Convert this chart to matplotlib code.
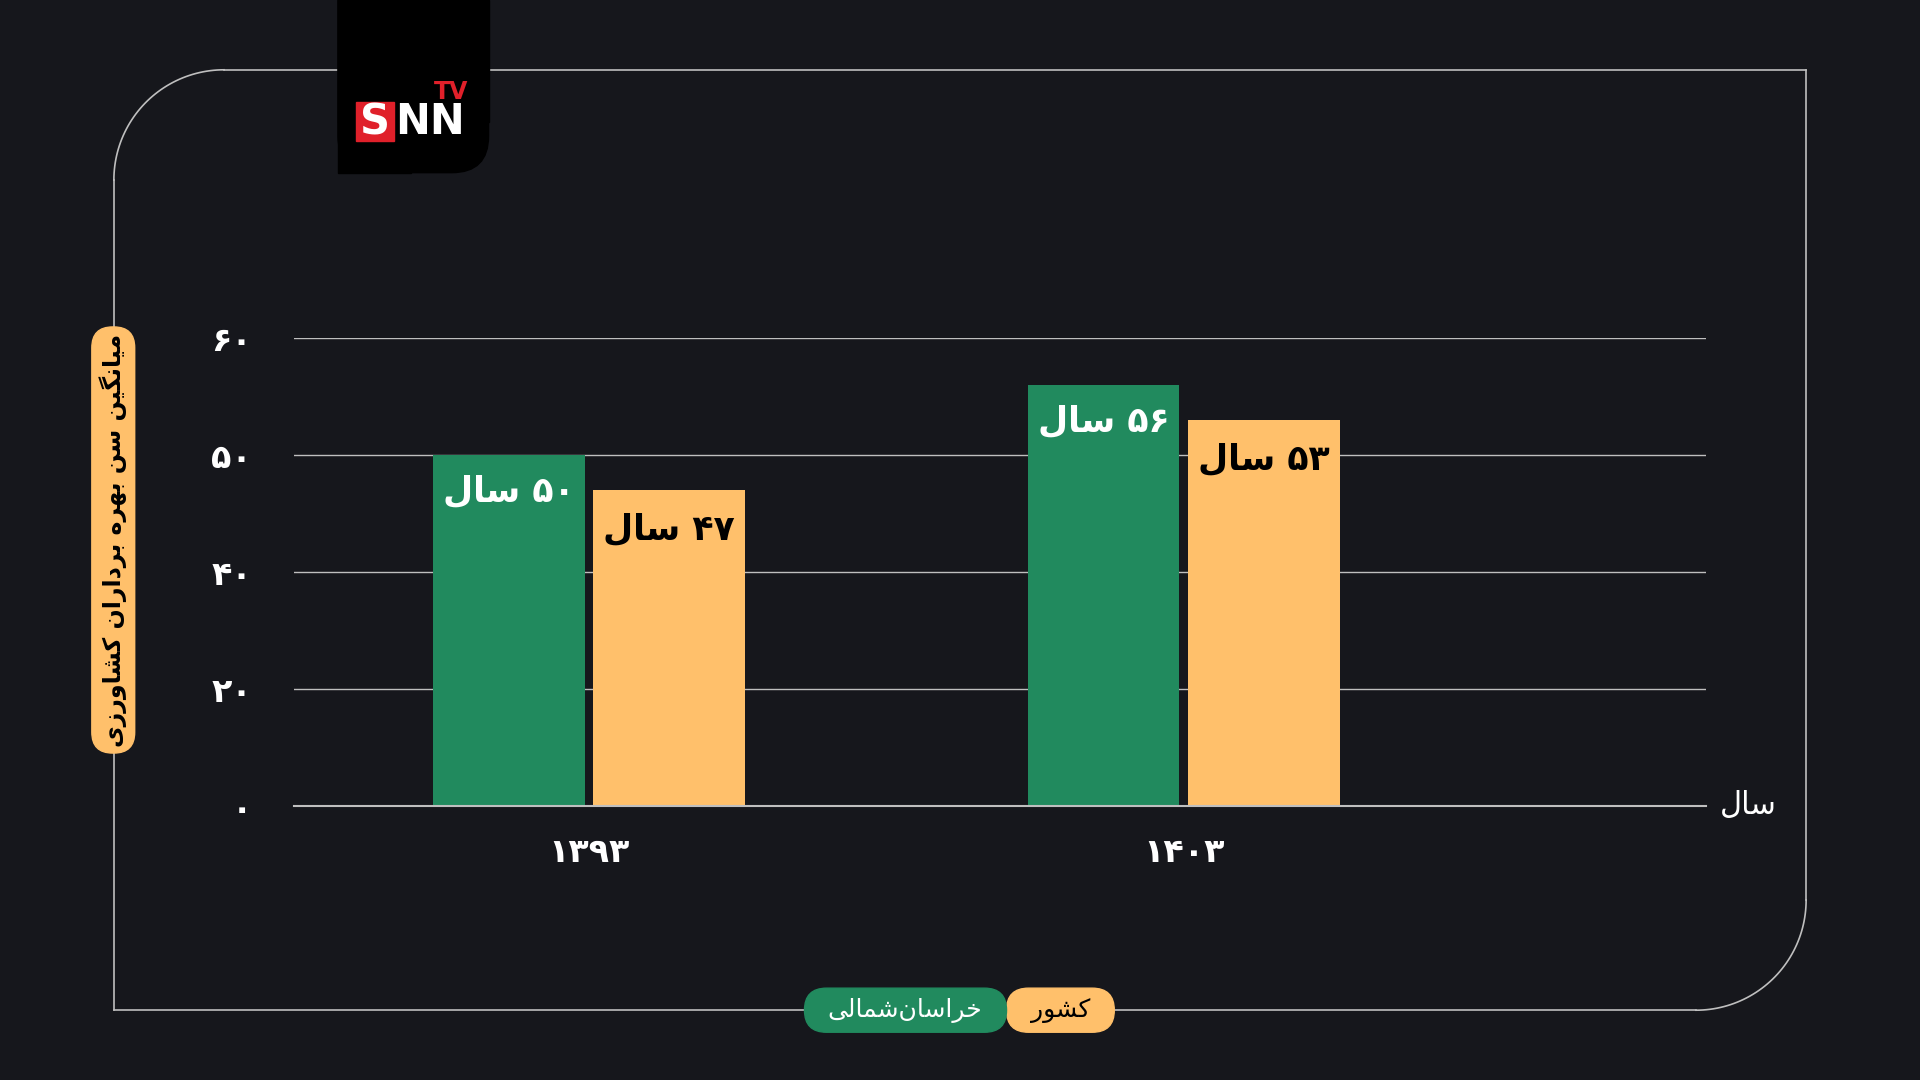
import matplotlib
matplotlib.use("Agg")
import matplotlib.pyplot as plt
import numpy as np
from matplotlib.patches import FancyBboxPatch, Rectangle

# ---------- data ----------
years = ["۱۳۹۳", "۱۴۰۳"]
north_khorasan = [50, 56]
country = [47, 53]
ytick_vals = [0, 20, 40, 50, 60]
ytick_labels = ["۰", "۲۰", "۴۰", "۵۰", "۶۰"]
series_names = ["خراسان\u200cشمالی", "کشور"]
unit = "سال"
ylabel = "میانگین سن بهره برداران کشاورزی"

# ---------- minimal Persian shaper ----------
FORMS = {  # iso, fin, ini, med
    'ا': ('\uFE8D', '\uFE8E', None, None), 'ب': ('\uFE8F', '\uFE90', '\uFE91', '\uFE92'),
    'خ': ('\uFEA5', '\uFEA6', '\uFEA7', '\uFEA8'), 'د': ('\uFEA9', '\uFEAA', None, None),
    'ر': ('\uFEAD', '\uFEAE', None, None), 'ز': ('\uFEAF', '\uFEB0', None, None),
    'س': ('\uFEB1', '\uFEB2', '\uFEB3', '\uFEB4'), 'ش': ('\uFEB5', '\uFEB6', '\uFEB7', '\uFEB8'),
    'ل': ('\uFEDD', '\uFEDE', '\uFEDF', '\uFEE0'), 'م': ('\uFEE1', '\uFEE2', '\uFEE3', '\uFEE4'),
    'ن': ('\uFEE5', '\uFEE6', '\uFEE7', '\uFEE8'), 'ه': ('\uFEE9', '\uFEEA', '\uFEEB', '\uFEEC'),
    'و': ('\uFEED', '\uFEEE', None, None), 'ک': ('\uFB8E', '\uFB8F', '\uFB90', '\uFB91'),
    'گ': ('\uFB92', '\uFB93', '\uFB94', '\uFB95'), 'ی': ('\uFBFC', '\uFBFD', '\uFBFE', '\uFBFF'),
}
def dual(c): return c in FORMS and FORMS[c][2] is not None
def shape(s):
    out = []
    for i, c in enumerate(s):
        if c not in FORMS:
            if c != '\u200c':
                out.append(c)
            continue
        prev = s[i-1] if i > 0 else ''
        nxt = s[i+1] if i + 1 < len(s) else ''
        jp = dual(prev)
        jn = dual(c) and nxt in FORMS
        f = FORMS[c]
        if jp and jn: out.append(f[3])
        elif jp: out.append(f[1])
        elif jn: out.append(f[2])
        else: out.append(f[0])
    return ''.join(out)
def fa(s):
    s = shape(s)
    toks, cur, isd = [], '', None
    for c in s:
        d = '\u06F0' <= c <= '\u06F9'
        if cur and d != isd:
            toks.append((cur, isd)); cur = ''
        cur += c; isd = d
    if cur: toks.append((cur, isd))
    return ''.join(t if d else t[::-1] for t, d in reversed(toks))
FA_DIG = str.maketrans("0123456789", "۰۱۲۳۴۵۶۷۸۹")

BG = "#16171c"; GREEN = "#218a5e"; ORANGE = "#ffc06b"; LINE = "#bfbfbf"
plt.rcParams['font.family'] = ["DejaVu Sans"]

fig = plt.figure(figsize=(19.2, 10.8), dpi=100, facecolor=BG)
W, H = 1568, 882

ov = fig.add_axes([0, 0, 1, 1], zorder=0)
ov.set_xlim(0, W); ov.set_ylim(H, 0); ov.axis('off')
r = 90
x0, y0, x1, y1 = 93, 57, 1475, 825
lw = 1.2
ov.plot([x0 + r, x1], [y0, y0], color=LINE, lw=lw)
ov.plot([x1, x1], [y0, y1 - r], color=LINE, lw=lw)
ov.plot([x1 - r, x0], [y1, y1], color=LINE, lw=lw)
ov.plot([x0, x0], [y1, y0 + r], color=LINE, lw=lw)
t = np.linspace(0, np.pi / 2, 50)
ov.plot(x0 + r - r * np.cos(t), y0 + r - r * np.sin(t), color=LINE, lw=lw)
ov.plot(x1 - r + r * np.cos(t), y1 - r + r * np.sin(t), color=LINE, lw=lw)

# logo
ov.add_patch(Rectangle((276, 0), 123, 100, color='black', zorder=2))
ov.add_patch(Rectangle((276, 0), 60, 141, color='black', zorder=2))
ov.add_patch(FancyBboxPatch((276, -60), 123, 201, boxstyle="round,pad=0,rounding_size=30",
                            color='black', zorder=2))
ov.add_patch(Rectangle((291, 83), 31, 32, color='#e0202a', zorder=3))
ov.text(306.5, 100, "S", color='white', fontsize=30, fontweight='bold', ha='center', va='center', zorder=4)
ov.text(351, 100, "NN", color='white', fontsize=30, fontweight='bold', ha='center', va='center', zorder=4)
ov.text(368, 75, "TV", color='#e0202a', fontsize=17, fontweight='bold', ha='center', va='center', zorder=4)

# y label pill
ov.add_patch(FancyBboxPatch((75, 267), 35, 348, boxstyle="round,pad=0,rounding_size=17",
                            color=ORANGE, zorder=2))
ov.text(92.5, 441, fa(ylabel), rotation=90, color='black', fontsize=17, fontweight='bold',
        ha='center', va='center', zorder=3)

# legend pills
ov.add_patch(FancyBboxPatch((822, 807), 88, 36, boxstyle="round,pad=0,rounding_size=18",
                            color=ORANGE, zorder=2))
ov.add_patch(FancyBboxPatch((657, 807), 165, 36, boxstyle="round,pad=0,rounding_size=18",
                            color=GREEN, zorder=3))
ov.text(739, 825, fa(series_names[0]), color='white', fontsize=18, ha='center', va='center', zorder=4)
ov.text(866, 825, fa(series_names[1]), color='black', fontsize=18, ha='center', va='center', zorder=4)

# main chart
ax = fig.add_axes([240 / W, 1 - 658 / H, 1153 / W, 382 / H], zorder=1)
ax.set_facecolor('none')
pos = np.arange(len(ytick_vals), dtype=float)
fwd = lambda v: np.interp(v, ytick_vals, pos)
inv = lambda p: np.interp(p, pos, ytick_vals)
ax.set_yscale('function', functions=(fwd, inv))
ax.set_ylim(0, 60.3)
x = np.arange(len(years))
ax.set_xlim(-0.496, 1.877)
bw, off = 0.255, 0.135
ax.bar(x - off, north_khorasan, bw, color=GREEN, zorder=2)
ax.bar(x + off, country, bw, color=ORANGE, zorder=2)
for xi, v in zip(x, north_khorasan):
    ax.annotate(fa(f"{v:d} {unit}".translate(FA_DIG)),
                (xi - off, v), xytext=(0, -37), textcoords='offset pixels',
                ha='center', va='center', color='white', fontsize=25, fontweight='bold', zorder=3)
for xi, v in zip(x, country):
    ax.annotate(fa(f"{v:d} {unit}".translate(FA_DIG)),
                (xi + off, v), xytext=(0, -40), textcoords='offset pixels',
                ha='center', va='center', color='black', fontsize=25, fontweight='bold', zorder=3)
ax.set_yticks(ytick_vals)
ax.set_yticklabels(ytick_labels, color='white', fontsize=24, fontweight='bold')
ax.set_xticks(x)
ax.set_xticklabels(years, color='white', fontsize=24, fontweight='bold')
ax.tick_params(length=0)
ax.tick_params(axis='y', pad=30)
ax.tick_params(axis='x', pad=22)
ax.grid(axis='y', color=LINE, lw=1, zorder=0)
ax.axhline(0, color=LINE, lw=1.5, zorder=3, clip_on=False)
for s in ax.spines.values():
    s.set_visible(False)
ax.text(1.01, 0, fa(unit), transform=ax.transAxes, color='white', fontsize=22,
        ha='left', va='center')

fig.savefig("out.png", dpi=100, facecolor=BG)
